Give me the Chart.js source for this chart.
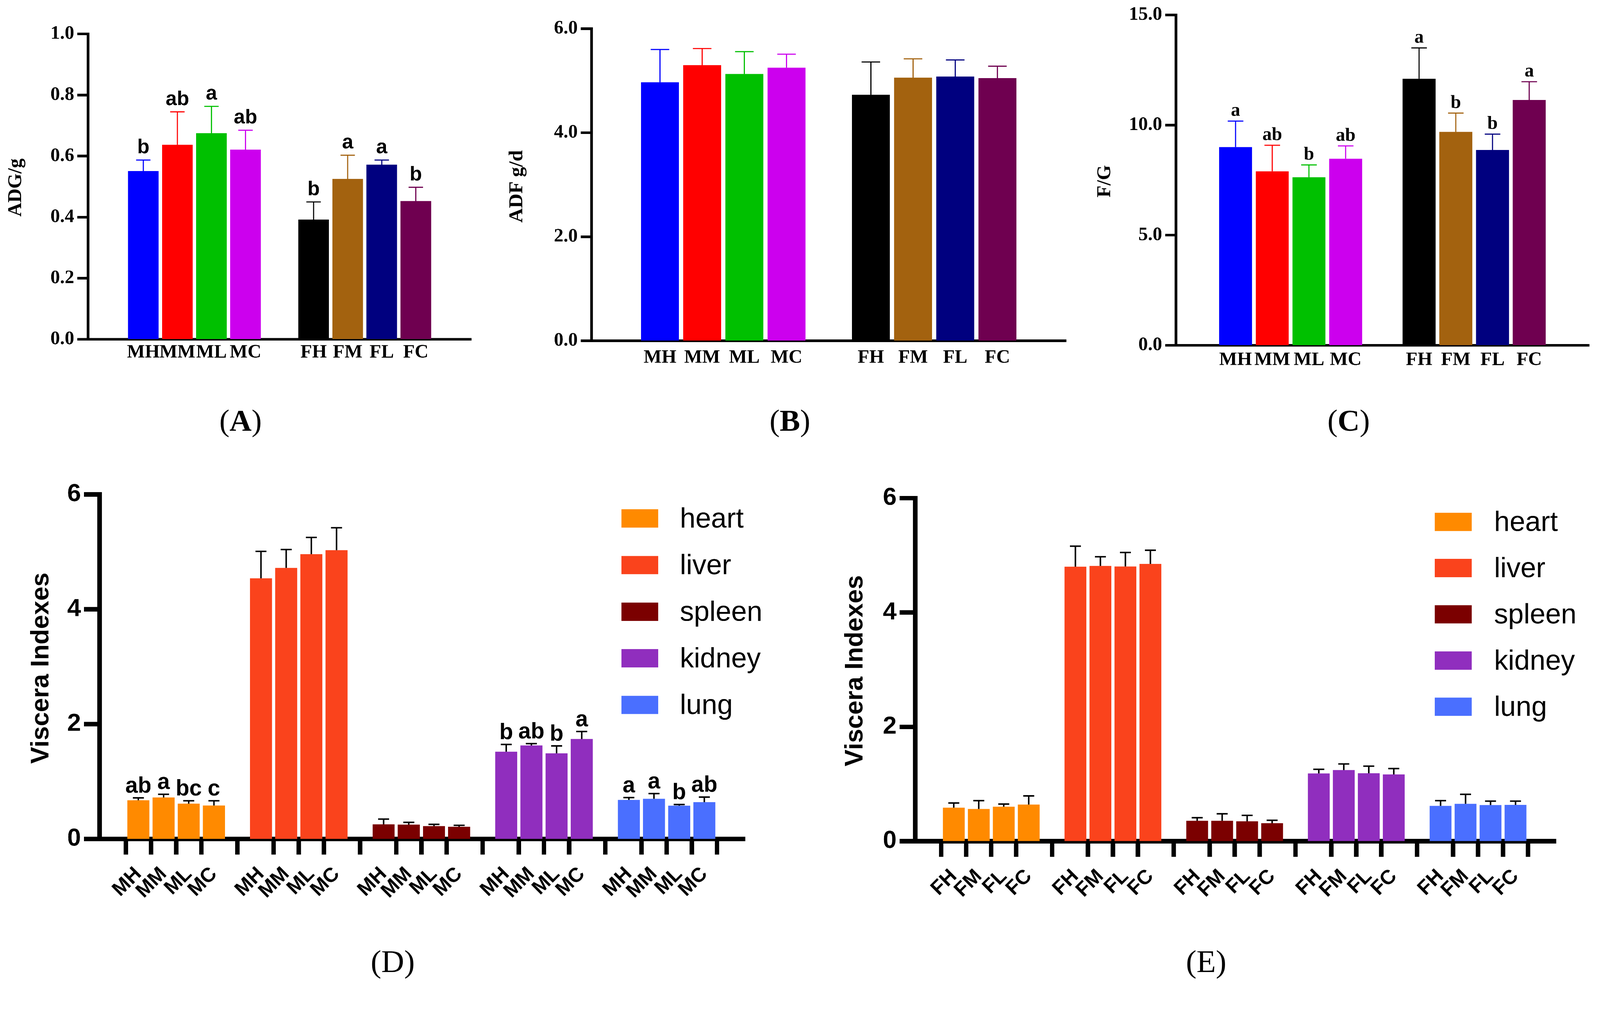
<!DOCTYPE html>
<html lang="en">
<head>
<meta charset="UTF-8">
<title>Growth performance and viscera indexes</title>
<script src="https://cdn.jsdelivr.net/npm/chart.js@4"></script>
<style>
  html, body { margin: 0; padding: 0; background: #fff; overflow: hidden; }
  #stage { width: 4290px; height: 2640px; position: relative; transform-origin: 0 0; background: #fff; }
  canvas { position: absolute; }
  .ytitle { position: absolute; transform: translate(-50%, -50%) rotate(-90deg); white-space: nowrap; color: #000; line-height: 1; }
  .serif { font-family: "Liberation Serif", "Times New Roman", serif; font-weight: bold; }
  .sans { font-family: "Liberation Sans", Arial, sans-serif; font-weight: bold; }
  .panel { position: absolute; transform: translate(-50%, -50%); font-family: "Liberation Serif", "Times New Roman", serif; font-size: 82px; line-height: 1; color: #000; white-space: nowrap; }
</style>
</head>
<body>
<div id="stage">
<div class="ytitle serif" style="left:40px; top:503px; font-size:52px;">ADG/g</div>
<div class="ytitle serif" style="left:1382px; top:500px; font-size:54px;">ADF g/d</div>
<div class="ytitle serif" style="left:2960px; top:486px; font-size:52px;">F/G</div>
<div class="ytitle sans" style="left:106px; top:1792px; font-size:68px;">Viscera Indexes</div>
<div class="ytitle sans" style="left:2289px; top:1799px; font-size:68px;">Viscera Indexes</div>

<div class="panel" style="left:645px; top:1128px;">(<b>A</b>)</div>
<div class="panel" style="left:2118px; top:1128px;">(<b>B</b>)</div>
<div class="panel" style="left:3616px; top:1128px;">(<b>C</b>)</div>
<div class="panel" style="left:1053px; top:2578px; font-size:85px;">(D)</div>
<div class="panel" style="left:3234px; top:2578px; font-size:85px;">(E)</div>
</div>

<script>
// the figure is laid out on a 4290 x 2640 stage, fitted to the window
const stage = document.getElementById('stage');
stage.style.transform = 'scale(' + Math.min(window.innerWidth / 4290, window.innerHeight / 2640) + ')';

// ---- data: growth (A, B, C) ----
const growthGroups = ['MH', 'MM', 'ML', 'MC', 'FH', 'FM', 'FL', 'FC'];
const growthSlots = [0, 1, 2, 3, 5, 6, 7, 8];   // empty slot between male and female groups
const growthColors = ['#0000FF', '#FF0000', '#00C000', '#CC00EE', '#000000', '#A3620F', '#00007F', '#6F0050'];

const adgMean    = [0.551, 0.637, 0.675, 0.621, 0.392, 0.525, 0.572, 0.453];
const adgUpper   = [0.587, 0.745, 0.763, 0.685, 0.450, 0.603, 0.587, 0.498];
const adgLetters = ['b', 'ab', 'a', 'ab', 'b', 'a', 'a', 'b'];

const adfMean  = [4.97, 5.30, 5.13, 5.25, 4.73, 5.06, 5.08, 5.05];
const adfUpper = [5.60, 5.62, 5.56, 5.51, 5.36, 5.42, 5.40, 5.28];

const fgMean    = [9.00, 7.90, 7.63, 8.47, 12.10, 9.69, 8.87, 11.14];
const fgUpper   = [10.18, 9.08, 8.19, 9.05, 13.50, 10.54, 9.59, 11.97];
const fgLetters = ['a', 'ab', 'b', 'ab', 'a', 'b', 'b', 'a'];

// ---- data: viscera indexes (D, E) ----
const organs = ['heart', 'liver', 'spleen', 'kidney', 'lung'];
const organColors = ['#FF8A00', '#FA431C', '#7B0000', '#902EBE', '#4A6FFF'];
const maleGroups = ['MH', 'MM', 'ML', 'MC'];
const femaleGroups = ['FH', 'FM', 'FL', 'FC'];

const maleMean = [
  [0.674, 0.724, 0.615, 0.583],
  [4.54, 4.72, 4.96, 5.03],
  [0.255, 0.250, 0.223, 0.214],
  [1.52, 1.63, 1.49, 1.74],
  [0.68, 0.70, 0.58, 0.64]
];
const maleUpper = [
  [0.715, 0.779, 0.665, 0.665],
  [5.01, 5.04, 5.25, 5.42],
  [0.346, 0.290, 0.255, 0.237],
  [1.645, 1.66, 1.62, 1.87],
  [0.72, 0.79, 0.60, 0.73]
];
const maleLetters = [
  ['ab', 'a', 'bc', 'c'],
  ['', '', '', ''],
  ['', '', '', ''],
  ['b', 'ab', 'b', 'a'],
  ['a', 'a', 'b', 'ab']
];

const femaleMean = [
  [0.586, 0.563, 0.604, 0.641],
  [4.80, 4.815, 4.805, 4.85],
  [0.357, 0.357, 0.348, 0.316],
  [1.185, 1.245, 1.19, 1.167],
  [0.618, 0.654, 0.632, 0.636]
];
const femaleUpper = [
  [0.668, 0.709, 0.650, 0.792],
  [5.16, 4.975, 5.05, 5.09],
  [0.412, 0.480, 0.453, 0.366],
  [1.259, 1.35, 1.313, 1.272],
  [0.709, 0.819, 0.70, 0.70]
];

const SERIF = '"Liberation Serif", "Times New Roman", serif';
const SANS = '"Liberation Sans", Arial, sans-serif';
const ORGAN_STRIDE = 4.87;   // distance between organ blocks, in bar slots

Chart.defaults.animation = false;
Chart.defaults.color = '#000';

// upper error bar, in bar colour or a fixed colour
const errorBars = {
  id: 'errorBars',
  afterDatasetsDraw(chart, args, opts) {
    const ctx = chart.ctx, y = chart.scales.y;
    chart.data.datasets.forEach((ds, di) => {
      chart.getDatasetMeta(di).data.forEach((bar, i) => {
        const top = y.getPixelForValue(ds.upper[i]);
        const half = bar.width * opts.cap / 2;
        ctx.save();
        ctx.strokeStyle = opts.color || (Array.isArray(ds.backgroundColor) ? ds.backgroundColor[i] : ds.backgroundColor);
        ctx.lineWidth = opts.width;
        ctx.beginPath();
        ctx.moveTo(bar.x, bar.y);
        ctx.lineTo(bar.x, top);
        ctx.moveTo(bar.x - half, top);
        ctx.lineTo(bar.x + half, top);
        ctx.stroke();
        ctx.restore();
      });
    });
  }
};

// significance letters above the error bars
const sigLetters = {
  id: 'sigLetters',
  afterDatasetsDraw(chart, args, opts) {
    const ctx = chart.ctx, y = chart.scales.y;
    chart.data.datasets.forEach((ds, di) => {
      if (!ds.letters) return;
      chart.getDatasetMeta(di).data.forEach((bar, i) => {
        const t = ds.letters[i];
        if (!t) return;
        ctx.save();
        ctx.font = opts.font;
        ctx.fillStyle = '#000';
        ctx.textAlign = 'center';
        ctx.textBaseline = 'alphabetic';
        ctx.fillText(t, bar.x, y.getPixelForValue(ds.upper[i]) - opts.gap);
        ctx.restore();
      });
    });
  }
};

// colour block legend on the right side
const blockLegend = {
  id: 'blockLegend',
  afterDraw(chart, args, o) {
    const ctx = chart.ctx;
    chart.data.datasets.forEach((ds, k) => {
      const top = o.y + k * o.step;
      ctx.save();
      ctx.fillStyle = ds.backgroundColor;
      ctx.fillRect(o.x, top, o.w, o.h);
      ctx.fillStyle = '#000';
      ctx.font = o.font;
      ctx.textAlign = 'left';
      ctx.textBaseline = 'alphabetic';
      ctx.fillText(ds.label, o.textX, top + o.h);
      ctx.restore();
    });
  }
};

function buildPanel(p) {
  const canvas = document.createElement('canvas');
  const left = p.area.l - p.yw, top = p.area.t - p.padT;
  const w = p.area.r + p.padR - left, h = p.area.b + p.xh - top;
  canvas.width = w; canvas.height = h;
  canvas.style.left = left + 'px'; canvas.style.top = top + 'px';
  canvas.style.width = w + 'px'; canvas.style.height = h + 'px';
  stage.appendChild(canvas);

  const pluginOpts = {
    legend: { display: false },
    tooltip: { enabled: false },
    errorBars: p.err,
    sigLetters: p.letters || {},
  };
  const plugins = [errorBars, sigLetters];
  if (p.legend) {
    pluginOpts.blockLegend = Object.assign({}, p.legend, { x: p.legend.x - left, y: p.legend.y - top, textX: p.legend.textX - left });
    plugins.push(blockLegend);
  }

  return new Chart(canvas, {
    type: 'bar',
    data: { datasets: p.datasets },
    options: {
      responsive: false,
      devicePixelRatio: 2,
      layout: { padding: { top: p.padT, right: p.padR, left: 0, bottom: 0 } },
      datasets: { bar: { categoryPercentage: 1, barPercentage: p.barPct, borderWidth: 0 } },
      scales: {
        x: {
          type: 'linear', min: p.xMin, max: p.xMax,
          afterFit: s => { s.height = p.xh; },
          afterBuildTicks: s => { s.ticks = p.tickPos.map(v => ({ value: v })); },
          grid: p.xTickLen
            ? { drawOnChartArea: false, drawTicks: true, tickLength: p.xTickLen, tickWidth: p.axisW, color: '#000' }
            : { drawOnChartArea: false, drawTicks: false, color: '#000' },
          border: { display: true, color: '#000', width: p.axisW },
          ticks: {
            autoSkip: false, minRotation: p.rot, maxRotation: p.rot, padding: p.xPad,
            font: p.xFont, color: '#000',
            callback: (v, i) => p.tickLabels[i]
          }
        },
        y: {
          min: 0, max: p.yMax,
          afterFit: s => { s.width = p.yw; },
          grid: { drawOnChartArea: false, drawTicks: true, tickLength: p.yTickLen, tickWidth: p.axisW, color: '#000' },
          border: { display: true, color: '#000', width: p.axisW },
          ticks: { stepSize: p.yStep, padding: p.yPad, font: p.yFont, color: '#000', callback: v => v.toFixed(p.dec) }
        }
      },
      plugins: pluginOpts
    },
    plugins: plugins
  });
}

function growthDataset(mean, upper, letters) {
  return [{
    data: growthSlots.map((x, i) => ({ x: x, y: mean[i] })),
    backgroundColor: growthColors,
    upper: upper,
    letters: letters
  }];
}

function visceraDatasets(groups, mean, upper, letters) {
  return organs.map((name, k) => ({
    label: name,
    grouped: false,
    data: groups.map((g, i) => ({ x: k * ORGAN_STRIDE + i, y: mean[k][i] })),
    backgroundColor: organColors[k],
    upper: upper[k],
    letters: letters ? letters[k] : null
  }));
}

const growthCommon = {
  xMin: -0.92, xMax: 8.93, tickPos: growthSlots, tickLabels: growthGroups,
  yw: 236, padT: 40, padR: 25, xh: 110, axisW: 7, yTickLen: 29, yPad: 8,
  rot: 0, barPct: 0.9,
  xFont: { family: SERIF, size: 51, weight: 'bold' },
  yFont: { family: SERIF, size: 51, weight: 'bold' }
};

buildPanel(Object.assign({}, growthCommon, {
  area: { l: 236, r: 1264, t: 91, b: 910 }, xPad: 5,
  yMax: 1.0, yStep: 0.2, dec: 1,
  datasets: growthDataset(adgMean, adgUpper, adgLetters),
  err: { cap: 0.47, width: 3 },
  letters: { font: 'bold 54px ' + SANS, gap: 18 }
}));

buildPanel(Object.assign({}, growthCommon, {
  area: { l: 1586, r: 2859, t: 77, b: 914 }, xPad: 15,
  yMax: 6.0, yStep: 2, dec: 1,
  datasets: growthDataset(adfMean, adfUpper, null),
  err: { cap: 0.49, width: 3 }
}));

buildPanel(Object.assign({}, growthCommon, {
  area: { l: 3153, r: 4261, t: 40, b: 926 }, xPad: 9, padT: 40,
  yMax: 15.0, yStep: 5, dec: 1,
  datasets: growthDataset(fgMean, fgUpper, fgLetters),
  err: { cap: 0.47, width: 3 },
  letters: { font: 'bold 50px ' + SERIF, gap: 14 }
}));

function visceraTicks() {
  const pos = [];
  organs.forEach((o, k) => { for (let i = 0; i < 4; i++) pos.push(k * ORGAN_STRIDE + i); });
  return pos;
}
function repeatGroups(groups) {
  const out = [];
  organs.forEach(() => groups.forEach(g => out.push(g)));
  return out;
}

const visceraCommon = {
  xMin: -0.9, xMax: 23.46, tickPos: visceraTicks(),
  yw: 267, padT: 60, padR: 120, xh: 220, axisW: 12, yTickLen: 42, xTickLen: 42, yPad: 8,
  rot: 45, xPad: 21, barPct: 0.875,
  yMax: 6, yStep: 2, dec: 0,
  xFont: { family: SANS, size: 54, weight: 'bold' },
  yFont: { family: SANS, size: 66, weight: 'bold' },
  err: { cap: 0.5, width: 4, color: '#000' },
  letters: { font: 'bold 60px ' + SANS, gap: 14 }
};

buildPanel(Object.assign({}, visceraCommon, {
  area: { l: 267, r: 1998, t: 1326, b: 2250 },
  tickLabels: repeatGroups(maleGroups),
  datasets: visceraDatasets(maleGroups, maleMean, maleUpper, maleLetters),
  legend: { x: 1666, y: 1366, step: 125, w: 99, h: 49, textX: 1823, font: '75px ' + SANS }
}));

buildPanel(Object.assign({}, visceraCommon, {
  area: { l: 2454, r: 4172, t: 1336, b: 2256 },
  tickLabels: repeatGroups(femaleGroups),
  datasets: visceraDatasets(femaleGroups, femaleMean, femaleUpper, null),
  legend: { x: 3847, y: 1375, step: 124, w: 99, h: 49, textX: 4006, font: '75px ' + SANS }
}));
</script>
</body>
</html>
